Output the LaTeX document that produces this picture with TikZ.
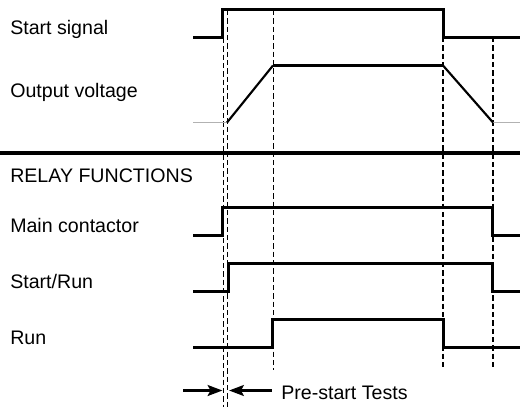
\documentclass[tikz,border=0pt]{standalone}
\usepackage{fontspec}
\setmainfont{Liberation Sans}
\usepackage{tikz}
\usetikzlibrary{arrows.meta}

\begin{document}
\begin{tikzpicture}[x=0.75pt, y=-0.75pt, >={Stealth[length=11pt,width=8pt,inset=2pt]},
        wave/.style={line width=2.25pt, line join=miter},
        ramp/.style={line width=1.6pt},
        idle/.style={line width=0.8pt, gray!60},
        mark line/.style={line width=0.8pt, dash pattern=on 4pt off 2.25pt},
        lbl/.style={anchor=base west, inner sep=0pt, font=\fontsize{14.7}{17}\selectfont}]
                \useasboundingbox (0,0) rectangle (520,407);

                \node[lbl] (1) at (10,34)  {Start signal};
                \node[lbl] (2) at (10,97)  {Output voltage};
                \node[lbl] (3) at (10,182) {RELAY FUNCTIONS};
                \node[lbl] (4) at (10,232) {Main contactor};
                \node[lbl] (5) at (10,288) {Start/Run};
                \node[lbl] (6) at (10,344) {Run};
                \node[lbl] (7) at (281,399) {Pre-start Tests};

                % timing marks
                \draw[mark line] (223.3,38) -- (223.3,407);
                \draw[mark line] (227.3,10) -- (227.3,407);
                \draw[mark line] (273.3,10) -- (273.3,370);
                \draw[mark line] (443,37) -- (443,370);
                \draw[mark line] (493,37) -- (493,370);

                % waveforms
                \draw[wave] (193,37) -- (222.5,37) -- (222.5,9.5) -- (443,9.5) -- (443,37) -- (520,37);
                \draw[idle] (193,122.5) -- (227,122.5);
                \draw[idle] (493,122.5) -- (520,122.5);
                \draw[ramp] (227,122.5) -- (273,65.5);
                \draw[ramp] (443,65.5) -- (493,122.5);
                \draw[wave] (273,65.5) -- (443,65.5);
                \draw[line width=3pt] (0,152.5) -- (520,152.5);
                \draw[wave] (193,235.5) -- (222.5,235.5) -- (222.5,207.5) -- (492.5,207.5) -- (492.5,235.5) -- (520,235.5);
                \draw[wave] (193,291.5) -- (228.5,291.5) -- (228.5,263.5) -- (492.5,263.5) -- (492.5,291.5) -- (520,291.5);
                \draw[wave] (193,347.5) -- (272.5,347.5) -- (272.5,319.5) -- (443,319.5) -- (443,347.5) -- (520,347.5);

                \coordinate (8)  at (183,390.5);
                \coordinate (9)  at (222.5,390.5);
                \coordinate (10) at (271.5,390.5);
                \coordinate (11) at (229,390.5);
                \path[->, line width=2.25pt]
                (8) edge (9)
                (10) edge (11);
\end{tikzpicture}
\end{document}
